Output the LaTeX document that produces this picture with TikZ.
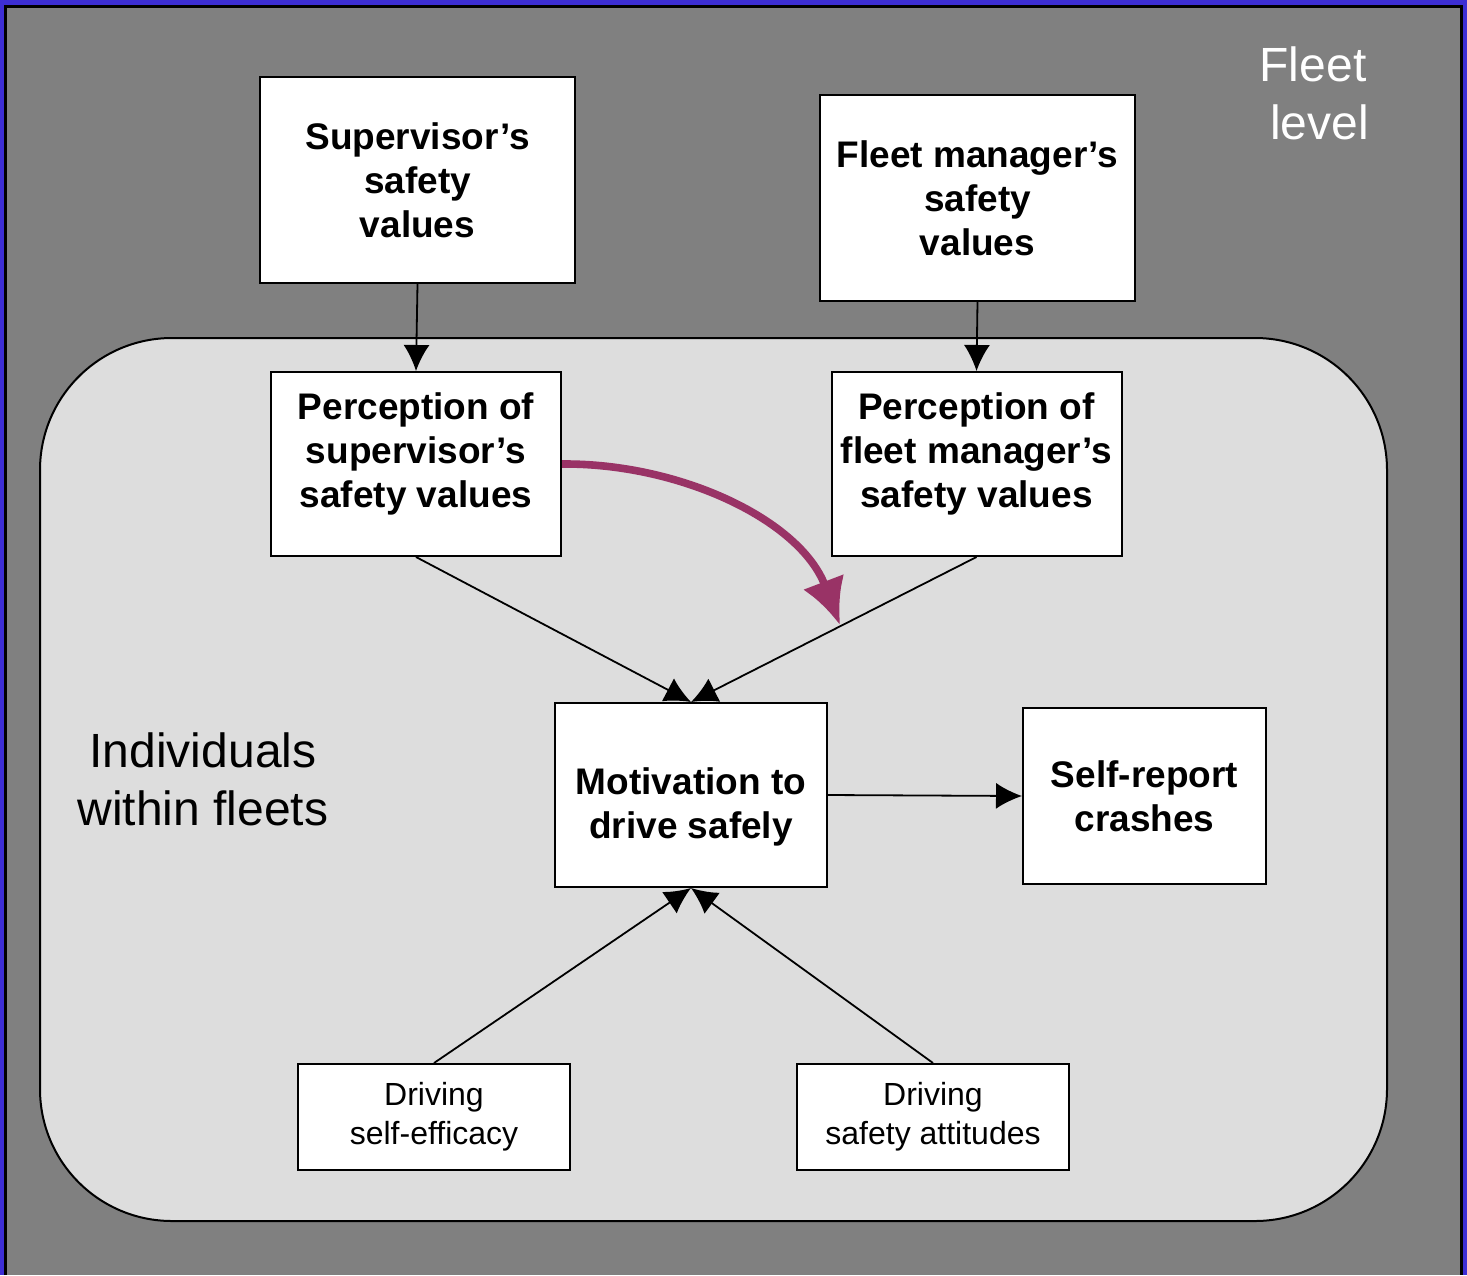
\documentclass[tikz,border=0pt]{standalone}
\usepackage{fontspec}
\setmainfont{Liberation Sans}
\usetikzlibrary{arrows.meta}
\definecolor{framebl}{RGB}{61,46,212}
\definecolor{fleetgr}{RGB}{128,128,128}
\definecolor{indivgr}{RGB}{221,221,221}
\definecolor{pathpurple}{RGB}{153,51,102}
\tikzset{
	bigbox/.style={draw=black,line width=1pt,fill=white,align=center,inner sep=0pt,font=\fontsize{18.5}{22}\selectfont\bfseries},
	smallbox/.style={draw=black,line width=1pt,fill=white,align=center,inner sep=0pt,font=\fontsize{16}{19.5}\selectfont},
	link/.style={line width=0.9pt,-{Latex[length=13pt,width=13pt]}}
}
\begin{document}
\begin{tikzpicture}[x=0.5pt,y=-0.5pt]
			\useasboundingbox (0,0) rectangle (1467,1275);
			%Levels
			\fill[framebl] (0,0) rectangle (1467,1275);
			\fill[fleetgr] (5.5,6.5) rectangle (1461.5,1275);
			\draw[line width=1.1pt] (5.5,1275) |- (1461.5,6.5) -- (1461.5,1275);
			\draw[fill=indivgr,line width=1pt,rounded corners=66pt] (40,338) rectangle (1387,1221);
			\node[white,align=center,font=\fontsize{24}{29}\selectfont] (fleet) at (1313,93) {Fleet\\ \ level};
			\node[align=center,font=\fontsize{24}{29}\selectfont] (indiv) at (203,779) {Individuals\\within fleets};
			%Boxes
			\node[bigbox,minimum width=157.5pt,minimum height=103pt] (sup) at (417.5,180) {Supervisor’s\\safety\\values};
			\node[bigbox,minimum width=157.5pt,minimum height=103pt] (fm) at (977.5,198) {Fleet manager’s\\safety\\values};
			\node[bigbox,minimum width=145pt,minimum height=92pt,text depth=14pt] (psup) at (416,464) {Perception of\\supervisor’s\\safety values};
			\node[bigbox,minimum width=145pt,minimum height=92pt,text depth=14pt] (pfm) at (976.5,464) {Perception of\\fleet manager’s\\safety values};
			\node[bigbox,minimum width=136pt,minimum height=92pt,text height=47pt] (mot) at (691,795) {Motivation to\\drive safely};
			\node[bigbox,minimum width=121.5pt,minimum height=88pt] (sr) at (1144.5,796) {Self-report\\crashes};
			\node[smallbox,minimum width=136pt,minimum height=53pt] (dse) at (434,1117) {Driving\\self-efficacy};
			\node[smallbox,minimum width=136pt,minimum height=53pt] (dsa) at (933,1117) {Driving\\safety attitudes};
			\coordinate (ptip) at (840,625);
			%Paths
			\draw[link] (sup.south) -- (psup.north);
			\draw[link] (fm.south) -- (pfm.north);
			\draw[link] (psup.south) -- (mot.north);
			\draw[link] (pfm.south) -- (mot.north);
			\draw[link] (mot.east) -- (sr.west);
			\draw[link] (dse.north) -- (mot.south);
			\draw[link] (dsa.north) -- (mot.south);
			%Cross-level path
			\draw[pathpurple,line width=3.8pt,-{Latex[length=23pt,width=22pt]}] (psup.east) .. controls (680,463) and (800,520) .. (ptip);
\end{tikzpicture}
\end{document}
